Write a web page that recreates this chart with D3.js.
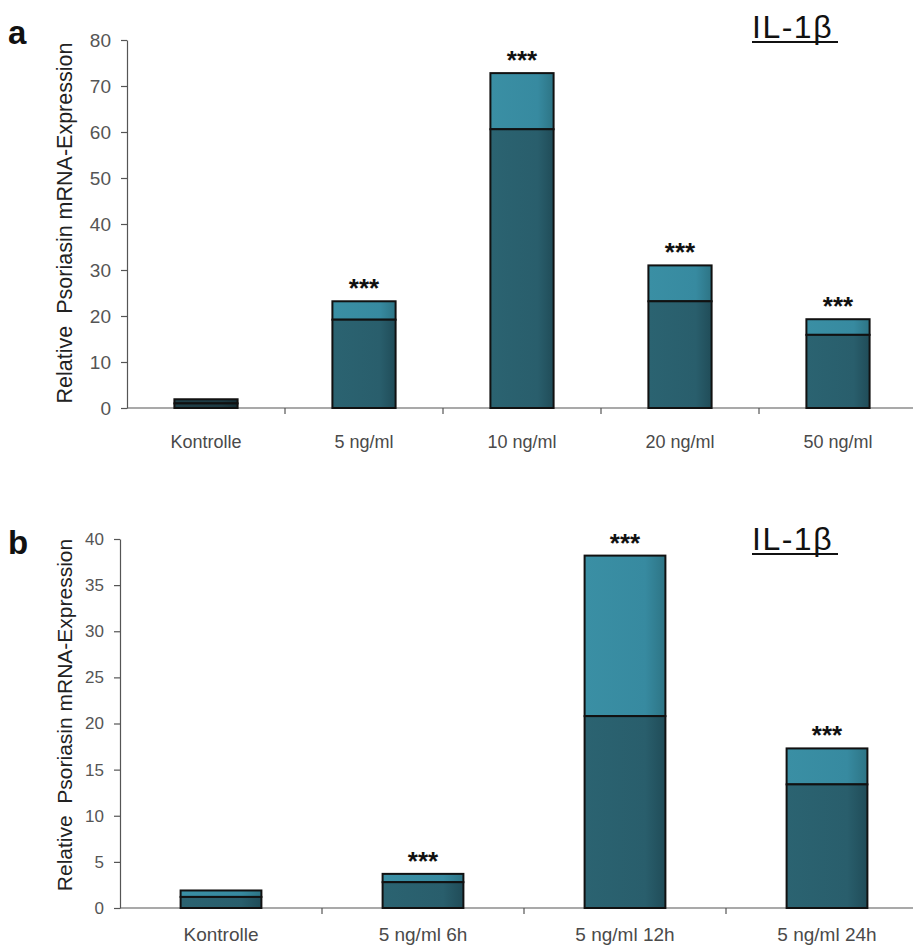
<!DOCTYPE html>
<html><head><meta charset="utf-8">
<script src="https://cdn.jsdelivr.net/npm/d3@7"></script>
<style>body{margin:0;background:#fff}svg{display:block}</style>
</head><body><svg id="c" width="913" height="947"></svg>
<script>
// ---- data ----
const catsA = ["Kontrolle", "5 ng/ml", "10 ng/ml", "20 ng/ml", "50 ng/ml"];
const lowerA = [1.0, 19.2, 60.6, 23.2, 15.9];
const totalA = [1.9, 23.2, 72.8, 31.0, 19.3];
const starsA = ["", "***", "***", "***", "***"];
const ticksA = [0, 10, 20, 30, 40, 50, 60, 70, 80];

const catsB = ["Kontrolle", "5 ng/ml 6h", "5 ng/ml 12h", "5 ng/ml 24h"];
const lowerB = [1.2, 2.8, 20.8, 13.4];
const totalB = [1.9, 3.7, 38.2, 17.3];
const starsB = ["", "***", "***", "***"];
const ticksB = [0, 5, 10, 15, 20, 25, 30, 35, 40];

const yTitle = "Relative  Psoriasin mRNA-Expression";
const panelTitle = "IL-1\u03B2";

const svg = d3.select("#c");
const defs = svg.append("defs");
function grad(id, c1, c2, c3) {
  const g = defs.append("linearGradient").attr("id", id).attr("x1", 0).attr("x2", 1).attr("y1", 0).attr("y2", 0);
  g.append("stop").attr("offset", "0%").attr("stop-color", c1);
  g.append("stop").attr("offset", "75%").attr("stop-color", c2);
  g.append("stop").attr("offset", "100%").attr("stop-color", c3);
}
grad("gLow", "#2b6371", "#295e6c", "#204c58");
grad("gUp", "#3a8fa4", "#378aa0", "#2d7485");
grad("gLowK", "#1f3f48", "#1d3a43", "#152d34");

function panel(o) {
  const g = svg.append("g");
  const x = d3.scaleBand().domain(o.cats).range([o.x0, o.x1]).paddingInner(0.6).paddingOuter(0.3);
  const y = d3.scaleLinear().domain([0, o.ymax]).range([o.yb, o.yt]);
  const axisColor = "#555";

  // y axis
  const ya = d3.axisLeft(y).tickValues(o.ticks).tickSize(6).tickPadding(o.tickPad).tickSizeOuter(0);
  const yg = g.append("g").attr("transform", `translate(${o.x0},0)`).call(ya);
  yg.select(".domain").attr("stroke", axisColor).attr("stroke-width", 1.2);
  yg.selectAll(".tick line").attr("stroke", axisColor).attr("stroke-width", 1.2);
  yg.selectAll(".tick text").attr("fill", "#555").style("font-family", "Liberation Sans, Arial, sans-serif")
    .style("font-size", o.tickFont + "px");

  // x axis line
  const step = x.step();
  g.append("line").attr("x1", o.x0).attr("x2", o.x1).attr("y1", y(0)).attr("y2", y(0))
    .attr("stroke", axisColor).attr("stroke-width", 1.2);
  // boundary ticks
  g.selectAll(".bt").data(o.cats.slice(1)).enter().append("line")
    .attr("x1", d => x(d) - step * 0.3).attr("x2", d => x(d) - step * 0.3)
    .attr("y1", y(0)).attr("y2", y(0) + 6).attr("stroke", axisColor).attr("stroke-width", 1.2);
  // category labels
  g.selectAll(".cl").data(o.cats).enter().append("text")
    .attr("x", d => x(d) + x.bandwidth() / 2).attr("y", o.labelY)
    .attr("text-anchor", "middle").attr("fill", "#4a4a4a")
    .style("font-family", "Liberation Sans, Arial, sans-serif").style("font-size", o.catFont + "px")
    .text(d => d);

  // bars: upper then lower
  const bw = x.bandwidth();
  g.selectAll(".up").data(o.cats).enter().append("rect")
    .attr("x", d => x(d)).attr("width", bw)
    .attr("y", (d, i) => y(o.total[i])).attr("height", (d, i) => y(o.lower[i]) - y(o.total[i]))
    .attr("fill", (d, i) => (o.darkFirst && i === 0) ? "url(#gLowK)" : "url(#gUp)")
    .attr("stroke", "#111").attr("stroke-width", 2);
  g.selectAll(".lo").data(o.cats).enter().append("rect")
    .attr("x", d => x(d)).attr("width", bw)
    .attr("y", (d, i) => y(o.lower[i])).attr("height", (d, i) => y(0) - y(o.lower[i]))
    .attr("fill", (d, i) => (o.darkFirst && i === 0) ? "url(#gLowK)" : "url(#gLow)")
    .attr("stroke", "#111").attr("stroke-width", 2);

  // stars
  g.selectAll(".st").data(o.cats).enter().append("text")
    .attr("x", d => x(d) + bw / 2).attr("y", (d, i) => y(o.total[i]) + o.starOff)
    .attr("text-anchor", "middle").attr("fill", "#111")
    .style("font-family", "Liberation Sans, Arial, sans-serif").style("font-weight", "bold")
    .style("font-size", "26px")
    .text((d, i) => o.stars[i]);

  // y title
  g.append("text").attr("transform", `translate(${o.titleX},${o.titleY}) rotate(-90)`)
    .attr("text-anchor", "middle").attr("fill", "#222")
    .attr("xml:space", "preserve").style("white-space", "pre")
    .style("font-family", "Liberation Sans, Arial, sans-serif").style("font-size", o.titleFont + "px")
    .text(yTitle);

  // panel letter
  g.append("text").attr("x", 8).attr("y", o.letterY).attr("fill", "#111")
    .style("font-family", "Liberation Sans, Arial, sans-serif").style("font-weight", "bold").style("font-size", "33px")
    .text(o.letter);

  // IL-1β
  g.append("text").attr("x", 752).attr("y", o.ilY).attr("fill", "#111")
    .style("font-family", "Liberation Sans, Arial, sans-serif").style("font-size", "32px")
    .style("letter-spacing", "1.5px")
    .text(panelTitle);
  g.append("line").attr("x1", 752).attr("x2", 838).attr("y1", o.ilY + 4).attr("y2", o.ilY + 4)
    .attr("stroke", "#111").attr("stroke-width", 2);
}

panel({ cats: catsA, lower: lowerA, total: totalA, stars: starsA, ticks: ticksA, ymax: 80,
  x0: 127, x1: 917, yb: 408, yt: 40, tickPad: 10, tickFont: 19, catFont: 18, labelY: 448,
  starOff: -4, titleX: 72, titleY: 223, titleFont: 21.5, letter: "a", letterY: 44, ilY: 38, darkFirst: true });

panel({ cats: catsB, lower: lowerB, total: totalB, stars: starsB, ticks: ticksB, ymax: 40,
  x0: 120, x1: 928, yb: 908, yt: 539, tickPad: 10, tickFont: 17, catFont: 19, labelY: 941,
  starOff: -4, titleX: 72, titleY: 715, titleFont: 21, letter: "b", letterY: 554, ilY: 550, darkFirst: false });
</script></body></html>
